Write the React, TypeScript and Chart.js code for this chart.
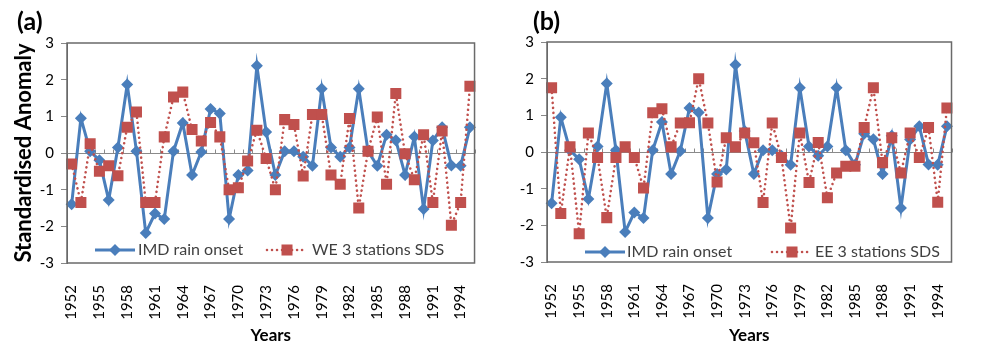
import React, { useEffect, useRef } from 'react';
import { Chart, registerables } from 'chart.js';

Chart.register(...registerables);

const years = [
  '1952', '1953', '1954', '1955', '1956', '1957', '1958', '1959', '1960', '1961',
  '1962', '1963', '1964', '1965', '1966', '1967', '1968', '1969', '1970', '1971',
  '1972', '1973', '1974', '1975', '1976', '1977', '1978', '1979', '1980', '1981',
  '1982', '1983', '1984', '1985', '1986', '1987', '1988', '1989', '1990', '1991',
  '1992', '1993', '1994', '1995',
];

const imdRainOnset = [
  -1.4, 0.95, 0.05, -0.2, -1.28, 0.15, 1.87, 0.05, -2.18, -1.65,
  -1.8, 0.05, 0.82, -0.6, 0.03, 1.2, 1.08, -1.8, -0.6, -0.48,
  2.38, 0.57, -0.6, 0.05, 0.05, -0.1, -0.35, 1.75, 0.15, -0.1,
  0.15, 1.75, 0.05, -0.35, 0.5, 0.35, -0.6, 0.44, -1.53, 0.34,
  0.7, -0.34, -0.35, 0.7,
];

const we3StationsSds = [
  -0.3, -1.35, 0.25, -0.5, -0.35, -0.62, 0.7, 1.12, -1.35, -1.35,
  0.44, 1.53, 1.66, 0.64, 0.33, 0.83, 0.44, -1.0, -0.95, -0.22,
  0.62, -0.15, -1.0, 0.91, 0.78, -0.63, 1.05, 1.05, -0.6, -0.85,
  0.94, -1.5, 0.05, 0.98, -0.85, 1.62, -0.02, -0.73, 0.5, -1.35,
  0.6, -1.97, -1.35, 1.82,
];

const ee3StationsSds = [
  1.75, -1.68, 0.14, -2.23, 0.52, -0.15, -1.79, -0.15, 0.14, -0.15,
  -0.98, 1.07, 1.18, 0.14, 0.79, 0.8, 2.0, 0.79, -0.82, 0.39,
  0.14, 0.52, 0.25, -1.38, 0.79, -0.15, -2.07, 0.52, -0.83, 0.26,
  -1.25, -0.57, -0.39, -0.39, 0.67, 1.75, -0.29, 0.39, -0.57, 0.52,
  -0.15, 0.67, -1.37, 1.2,
];

const yMin = -3;
const yMax = 3;
const yStep = 1;

const FONT = 'Lato';
const BLUE = '#4A7EBB';
const RED = '#C0504D';

const decoPlugin = {
  id: 'deco',
  beforeDatasetsDraw(chart: any) {
    const { ctx, chartArea: a, scales } = chart;
    const x = scales.x;
    const y = scales.y;
    const y0 = Math.round(y.getPixelForValue(0)) + 0.5;
    ctx.save();
    ctx.strokeStyle = '#8a8a8a';
    ctx.lineWidth = 1;
    ctx.beginPath();
    ctx.moveTo(a.left, y0);
    ctx.lineTo(a.right, y0);
    const n = chart.data.labels.length;
    for (let i = 0; i <= n; i++) {
      const px = Math.round(x.getPixelForValue(i - 0.5)) + 0.5;
      ctx.moveTo(px, y0);
      ctx.lineTo(px, y0 - 4);
    }
    ctx.stroke();
    ctx.restore();
  },
  afterDraw(chart: any, _args: any, opts: any) {
    const { ctx, chartArea: a } = chart;
    ctx.save();
    // frame
    ctx.strokeStyle = '#6a6a6a';
    ctx.lineWidth = 1.5;
    ctx.strokeRect(a.left, a.top, a.right - a.left, a.bottom - a.top);

    // legend
    const ly = a.bottom - opts.legendDy;
    chart.data.datasets.forEach((ds: any, i: number) => {
      const sx = a.left + opts.legendX[i * 2];
      const tx = a.left + opts.legendX[i * 2 + 1];
      ctx.save();
      ctx.strokeStyle = ds.borderColor;
      ctx.lineWidth = ds.borderWidth;
      ctx.setLineDash(ds.borderDash || []);
      ctx.lineCap = ds.borderCapStyle || 'butt';
      ctx.beginPath();
      ctx.moveTo(sx, ly);
      ctx.lineTo(sx + 40, ly);
      ctx.stroke();
      ctx.restore();
      const cx = sx + 20;
      const r = ds.pointRadius;
      ctx.fillStyle = ds.pointBackgroundColor;
      ctx.beginPath();
      if (ds.pointStyle === 'rectRot') {
        ctx.moveTo(cx, ly - r);
        ctx.lineTo(cx + r, ly);
        ctx.lineTo(cx, ly + r);
        ctx.lineTo(cx - r, ly);
        ctx.closePath();
      } else {
        const s = Math.SQRT1_2 * r;
        ctx.rect(cx - s, ly - s, 2 * s, 2 * s);
      }
      ctx.fill();
      ctx.font = `16px ${FONT}`;
      ctx.fillStyle = '#404040';
      ctx.textBaseline = 'middle';
      ctx.textAlign = 'left';
      ctx.fillText(ds.label, tx, ly);
    });

    // panel tag
    ctx.font = `bold 25px ${FONT}`;
    ctx.fillStyle = '#000';
    ctx.textBaseline = 'middle';
    ctx.textAlign = 'left';
    ctx.fillText(opts.tag, opts.tagX, opts.tagY);
    ctx.restore();
  },
};

type PanelProps = {
  tag: string;
  series: number[];
  seriesLabel: string;
  showYTitle: boolean;
  canvasLeft: number;
  canvasWidth: number;
  axisWidth: number;
  padTop: number;
  padRight: number;
  xAxisHeight: number;
  legendX: number[];
  legendDy: number;
  tagX: number;
  tagY: number;
};

function Panel(p: PanelProps) {
  const ref = useRef<HTMLCanvasElement | null>(null);
  useEffect(() => {
    if (!ref.current) return;
    const chart = new Chart(ref.current, {
      type: 'line',
      data: {
        labels: years,
        datasets: [
          {
            label: 'IMD rain onset',
            data: imdRainOnset,
            borderColor: BLUE,
            backgroundColor: BLUE,
            borderWidth: 3,
            pointStyle: 'rectRot',
            pointRadius: 6,
            pointBackgroundColor: BLUE,
            pointBorderColor: BLUE,
            pointBorderWidth: 0,
            tension: 0,
            order: 1,
          } as any,
          {
            label: p.seriesLabel,
            data: p.series,
            borderColor: RED,
            backgroundColor: RED,
            borderWidth: 2.6,
            borderDash: [0.01, 5],
            borderCapStyle: 'round',
            pointStyle: 'rect',
            pointRadius: 7.8,
            pointBackgroundColor: RED,
            pointBorderColor: RED,
            pointBorderWidth: 0,
            tension: 0,
            order: 0,
          } as any,
        ],
      },
      options: {
        responsive: false,
        animation: false,
        devicePixelRatio: 1,
        layout: { padding: { left: 0, right: p.padRight, top: p.padTop, bottom: 0 } },
        plugins: {
          legend: { display: false },
          tooltip: { enabled: false },
          deco: { tag: p.tag, tagX: p.tagX, tagY: p.tagY, legendX: p.legendX, legendDy: p.legendDy },
        } as any,
        scales: {
          x: {
            type: 'category',
            offset: true,
            grid: { display: false, drawTicks: false },
            border: { display: false },
            ticks: {
              autoSkip: false,
              maxRotation: 90,
              minRotation: 90,
              padding: 22,
              color: '#000',
              font: { family: FONT, size: 15 },
              callback: (_v: any, i: number) => (i % 3 === 0 ? years[i] : ''),
            },
            title: {
              display: true,
              text: 'Years',
              color: '#000',
              font: { family: FONT, size: 17, weight: 'bold' },
              padding: { top: 0, bottom: 3 },
            },
            afterFit: (s: any) => {
              s.height = p.xAxisHeight;
            },
          },
          y: {
            min: yMin,
            max: yMax,
            ticks: {
              stepSize: yStep,
              color: '#000',
              padding: 7,
              font: { family: FONT, size: 15 },
            },
            grid: { drawOnChartArea: false, drawTicks: true, tickLength: 6, color: '#888', tickColor: '#888' },
            border: { display: true, color: '#6a6a6a' },
            title: {
              display: p.showYTitle,
              text: 'Standardised Anomaly',
              color: '#000',
              font: { family: FONT, size: 22, weight: 'bold' },
              padding: { top: 11, bottom: 0 },
            },
            afterFit: (s: any) => {
              s.width = p.axisWidth;
            },
          },
        },
      } as any,
      plugins: [decoPlugin as any],
    });
    return () => chart.destroy();
  }, []);
  return (
    <div style={{ position: 'absolute', left: p.canvasLeft, top: 0, width: p.canvasWidth, height: 349 }}>
      <canvas ref={ref} width={p.canvasWidth} height={349} style={{ display: 'block' }} />
    </div>
  );
}

export default function App() {
  return (
    <div style={{ position: 'absolute', left: 0, top: 0, width: 987, height: 349, background: '#fff', overflow: 'hidden' }}>
      <Panel
        tag="(a)"
        series={we3StationsSds}
        seriesLabel="WE 3 stations SDS"
        showYTitle={true}
        canvasLeft={0}
        canvasWidth={510}
        axisWidth={67}
        padTop={43}
        padRight={8}
        xAxisHeight={86}
        legendX={[28, 71, 200, 245]}
        legendDy={13}
        tagX={17}
        tagY={22}
      />
      <Panel
        tag="(b)"
        series={ee3StationsSds}
        seriesLabel="EE 3 stations SDS"
        showYTitle={false}
        canvasLeft={510}
        canvasWidth={477}
        axisWidth={37}
        padTop={42}
        padRight={4}
        xAxisHeight={87}
        legendX={[38, 80, 225, 268]}
        legendDy={10}
        tagX={23}
        tagY={22}
      />
    </div>
  );
}
